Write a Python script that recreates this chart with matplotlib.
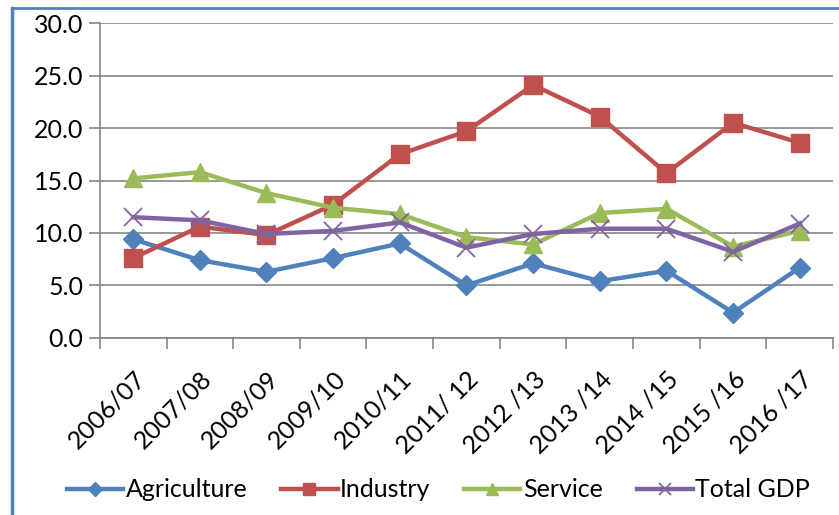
import matplotlib
matplotlib.use("Agg")
import matplotlib.pyplot as plt
from matplotlib.lines import Line2D
import numpy as np

plt.rcParams['font.family'] = ['Lato', 'DejaVu Sans']

# growth rates by sector (%)
years = ["2006/07", "2007/08", "2008/09", "2009/10", "2010/11", "2011/ 12",
         "2012 /13", "2013 /14", "2014 /15", "2015 /16", "2016 /17"]
agriculture = [9.4, 7.4, 6.3, 7.6, 9.0, 5.0, 7.1, 5.4, 6.4, 2.4, 6.7]
industry = [7.6, 10.6, 9.8, 12.7, 17.5, 19.7, 24.1, 21.1, 15.7, 20.5, 18.6]
service = [15.2, 15.8, 13.8, 12.4, 11.8, 9.6, 8.9, 11.9, 12.3, 8.7, 10.2]
total_gdp = [11.5, 11.2, 9.9, 10.2, 11.0, 8.6, 9.9, 10.4, 10.4, 8.2, 10.9]

fig = plt.figure(figsize=(8.39, 5.15), dpi=100)
ax = fig.add_axes([0.119, 0.344, 0.874, 0.611])

x = np.arange(len(years))
ax.plot(x, agriculture, color='#4F81BD', lw=3.2, marker='D', ms=10, label='Agriculture')
ax.plot(x, industry, color='#C0504D', lw=3.2, marker='s', ms=13, label='Industry')
ax.plot(x, service, color='#9BBB59', lw=3.2, marker='^', ms=13, label='Service')
ax.plot(x, total_gdp, color='#8064A2', lw=3.2, marker='x', ms=13, mew=1.3, label='Total GDP')

ax.set_xlim(-0.5, len(years) - 0.5)
ax.set_ylim(0, 30)
ax.set_yticks(np.arange(0, 31, 5))
ax.set_yticklabels([f"{v:.1f}" for v in np.arange(0, 31, 5)], fontsize=18)
ax.yaxis.grid(True, color='#868686', lw=1.2)
ax.set_axisbelow(True)

# category ticks sit between labels
ax.set_xticks(np.arange(-0.5, len(years), 1.0), minor=False)
ax.set_xticklabels([])
ax.set_xticks(x, minor=True)
ax.set_xticklabels(years, minor=True, rotation=45, ha='right', va='top',
                   rotation_mode='anchor', fontsize=18)
ax.tick_params(axis='x', which='major', length=8, color='#868686', width=1.2)
ax.tick_params(axis='x', which='minor', length=0, pad=21)
ax.tick_params(axis='y', length=8, color='#868686', width=1.2, pad=4)

for side in ['top', 'right']:
    ax.spines[side].set_visible(False)
for side in ['left', 'bottom']:
    ax.spines[side].set_color('#868686')
    ax.spines[side].set_linewidth(1.2)

ax.legend(loc='center', bbox_to_anchor=(0.462, -0.483), ncol=4, frameon=False,
          fontsize=18, handlelength=2.25, handletextpad=0.1, columnspacing=1.35,
          markerscale=0.7)

# blue chart border
fig.add_artist(Line2D([0.0145, 0.0145], [0, 0.985], transform=fig.transFigure,
                      color='#4F81BD', lw=2.5))
fig.add_artist(Line2D([0.0145, 1.0], [0.985, 0.985], transform=fig.transFigure,
                      color='#4F81BD', lw=2.0))

fig.savefig("out.png", dpi=100)
